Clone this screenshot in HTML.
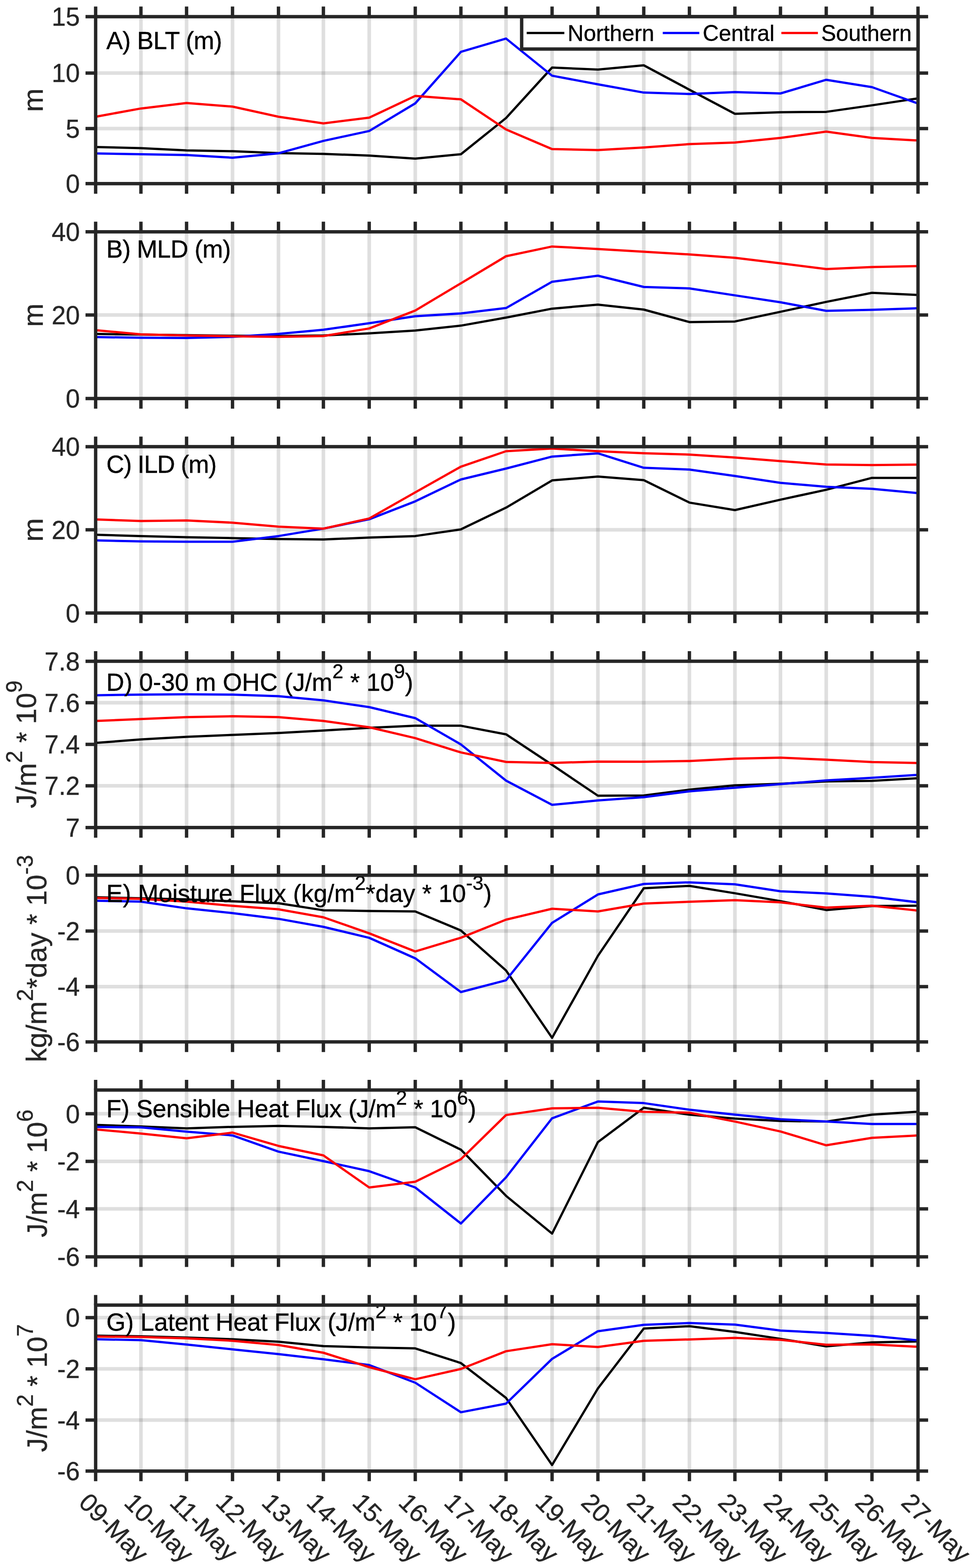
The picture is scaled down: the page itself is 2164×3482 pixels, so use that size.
<!DOCTYPE html>
<html><head><meta charset="utf-8"><title>Figure</title>
<style>html,body{margin:0;padding:0;background:#fff;}svg{display:block;}text{font-family:"Liberation Sans", Arial, Helvetica, sans-serif;stroke-width:0.45px;}</style></head><body>
<svg width="2164" height="3482" viewBox="0 0 2164 3482">
<rect x="0" y="0" width="2164" height="3482" fill="#ffffff"/>
<clipPath id="c0"><rect x="212.5" y="37" width="1827.1" height="370.8"/></clipPath>
<path d="M313.1 37V407.8M414.5 37V407.8M516.6 37V407.8M618.7 37V407.8M718.5 37V407.8M820.3 37V407.8M922.6 37V407.8M1024 37V407.8M1124.3 37V407.8M1226.6 37V407.8M1328.4 37V407.8M1430.3 37V407.8M1531.7 37V407.8M1632.8 37V407.8M1734 37V407.8M1835.7 37V407.8M1937.3 37V407.8" stroke="#262626" stroke-opacity="0.15" stroke-width="8" fill="none"/>
<path d="M212.5 285.4H2039.6M212.5 162.2H2039.6" stroke="#262626" stroke-opacity="0.15" stroke-width="8" fill="none"/>
<g clip-path="url(#c0)" fill="none" stroke-width="5" stroke-linejoin="round" stroke-linecap="butt">
<polyline points="212.5,326.5 313.1,329 414.5,334 516.6,335.8 618.7,340 718.5,341.7 820.3,345.5 922.6,352.3 1024,342.5 1124.3,262.1 1226.6,150 1328.4,154.6 1430.3,145 1531.7,199.2 1632.8,252.8 1734,249.2 1835.7,248.4 1937.3,233.9 2039.6,218.5" stroke="#000000"/>
<polyline points="212.5,340.8 313.1,342.5 414.5,344.2 516.6,350.2 618.7,340.4 718.5,312.9 820.3,290.9 922.6,229.5 1024,115.2 1124.3,85.6 1226.6,168.1 1328.4,187.2 1430.3,205.6 1531.7,208.8 1632.8,204.5 1734,207.5 1835.7,177.2 1937.3,193.5 2039.6,229.9" stroke="#0000ff"/>
<polyline points="212.5,259.2 313.1,240.9 414.5,228.7 516.6,236.7 618.7,259.2 718.5,274 820.3,261.3 922.6,213 1024,220.6 1124.3,287.5 1226.6,331.1 1328.4,333.2 1430.3,327.5 1531.7,320 1632.8,316.4 1734,306.3 1835.7,292.3 1937.3,306.3 2039.6,312" stroke="#ff0000"/>
</g>
<text x="236.3" y="108.6" font-size="55" fill="#000" stroke="#000" textLength="257.4" lengthAdjust="spacing">A) BLT (m)</text>
<path d="M212.5 37V14.5M212.5 407.8V430.3M313.1 37V14.5M313.1 407.8V430.3M414.5 37V14.5M414.5 407.8V430.3M516.6 37V14.5M516.6 407.8V430.3M618.7 37V14.5M618.7 407.8V430.3M718.5 37V14.5M718.5 407.8V430.3M820.3 37V14.5M820.3 407.8V430.3M922.6 37V14.5M922.6 407.8V430.3M1024 37V14.5M1024 407.8V430.3M1124.3 37V14.5M1124.3 407.8V430.3M1226.6 37V14.5M1226.6 407.8V430.3M1328.4 37V14.5M1328.4 407.8V430.3M1430.3 37V14.5M1430.3 407.8V430.3M1531.7 37V14.5M1531.7 407.8V430.3M1632.8 37V14.5M1632.8 407.8V430.3M1734 37V14.5M1734 407.8V430.3M1835.7 37V14.5M1835.7 407.8V430.3M1937.3 37V14.5M1937.3 407.8V430.3M2039.6 37V14.5M2039.6 407.8V430.3M212.5 407.8H190M2039.6 407.8H2062.1M212.5 285.4H190M2039.6 285.4H2062.1M212.5 162.2H190M2039.6 162.2H2062.1M212.5 37H190M2039.6 37H2062.1" stroke="#262626" stroke-width="7.5" fill="none"/>
<rect x="212.5" y="37" width="1827.1" height="370.8" fill="none" stroke="#262626" stroke-width="7.5"/>
<text x="177.5" y="428" font-size="56.5" fill="#262626" stroke="#262626" text-anchor="end">0</text>
<text x="177.5" y="305.6" font-size="56.5" fill="#262626" stroke="#262626" text-anchor="end">5</text>
<text x="177.5" y="182.4" font-size="56.5" fill="#262626" stroke="#262626" text-anchor="end">10</text>
<text x="177.5" y="57.2" font-size="56.5" fill="#262626" stroke="#262626" text-anchor="end">15</text>
<text transform="translate(94.9 222.4) rotate(-90)" font-size="62.5" fill="#262626" stroke="#262626" text-anchor="middle">m</text>
<clipPath id="c1"><rect x="212.5" y="514.8" width="1827.1" height="370.2"/></clipPath>
<path d="M313.1 514.8V885M414.5 514.8V885M516.6 514.8V885M618.7 514.8V885M718.5 514.8V885M820.3 514.8V885M922.6 514.8V885M1024 514.8V885M1124.3 514.8V885M1226.6 514.8V885M1328.4 514.8V885M1430.3 514.8V885M1531.7 514.8V885M1632.8 514.8V885M1734 514.8V885M1835.7 514.8V885M1937.3 514.8V885" stroke="#262626" stroke-opacity="0.15" stroke-width="8" fill="none"/>
<path d="M212.5 699.6H2039.6" stroke="#262626" stroke-opacity="0.15" stroke-width="8" fill="none"/>
<g clip-path="url(#c1)" fill="none" stroke-width="5" stroke-linejoin="round" stroke-linecap="butt">
<polyline points="212.5,741.6 313.1,742.9 414.5,744.2 516.6,745.5 618.7,746.3 718.5,745 820.3,740.2 922.6,734.1 1024,723.1 1124.3,705.3 1226.6,685.4 1328.4,676.5 1430.3,687.5 1531.7,715.2 1632.8,713.9 1734,692.4 1835.7,670.4 1937.3,650.2 2039.6,655" stroke="#000000"/>
<polyline points="212.5,748.4 313.1,750.1 414.5,750.5 516.6,748 618.7,741.6 718.5,732.3 820.3,717.8 922.6,702.3 1024,696 1124.3,684.1 1226.6,625.7 1328.4,612.2 1430.3,637.3 1531.7,640.5 1632.8,655.9 1734,671.3 1835.7,690.2 1937.3,688 2039.6,684.5" stroke="#0000ff"/>
<polyline points="212.5,733.2 313.1,742.5 414.5,745 516.6,746.7 618.7,748 718.5,746.3 820.3,729.4 922.6,689.6 1024,629.1 1124.3,569 1226.6,547.4 1328.4,552.9 1430.3,559 1531.7,565 1632.8,572.5 1734,584.8 1835.7,597.5 1937.3,593.1 2039.6,590.9" stroke="#ff0000"/>
</g>
<text x="236.3" y="571.7" font-size="55" fill="#000" stroke="#000" textLength="276.7" lengthAdjust="spacing">B) MLD (m)</text>
<path d="M212.5 514.8V492.3M212.5 885V907.5M313.1 514.8V492.3M313.1 885V907.5M414.5 514.8V492.3M414.5 885V907.5M516.6 514.8V492.3M516.6 885V907.5M618.7 514.8V492.3M618.7 885V907.5M718.5 514.8V492.3M718.5 885V907.5M820.3 514.8V492.3M820.3 885V907.5M922.6 514.8V492.3M922.6 885V907.5M1024 514.8V492.3M1024 885V907.5M1124.3 514.8V492.3M1124.3 885V907.5M1226.6 514.8V492.3M1226.6 885V907.5M1328.4 514.8V492.3M1328.4 885V907.5M1430.3 514.8V492.3M1430.3 885V907.5M1531.7 514.8V492.3M1531.7 885V907.5M1632.8 514.8V492.3M1632.8 885V907.5M1734 514.8V492.3M1734 885V907.5M1835.7 514.8V492.3M1835.7 885V907.5M1937.3 514.8V492.3M1937.3 885V907.5M2039.6 514.8V492.3M2039.6 885V907.5M212.5 885H190M2039.6 885H2062.1M212.5 699.6H190M2039.6 699.6H2062.1M212.5 514.8H190M2039.6 514.8H2062.1" stroke="#262626" stroke-width="7.5" fill="none"/>
<rect x="212.5" y="514.8" width="1827.1" height="370.2" fill="none" stroke="#262626" stroke-width="7.5"/>
<text x="177.5" y="905.2" font-size="56.5" fill="#262626" stroke="#262626" text-anchor="end">0</text>
<text x="177.5" y="719.8" font-size="56.5" fill="#262626" stroke="#262626" text-anchor="end">20</text>
<text x="177.5" y="535" font-size="56.5" fill="#262626" stroke="#262626" text-anchor="end">40</text>
<text transform="translate(94.9 699.9) rotate(-90)" font-size="62.5" fill="#262626" stroke="#262626" text-anchor="middle">m</text>
<clipPath id="c2"><rect x="212.5" y="991.9" width="1827.1" height="369.4"/></clipPath>
<path d="M313.1 991.9V1361.3M414.5 991.9V1361.3M516.6 991.9V1361.3M618.7 991.9V1361.3M718.5 991.9V1361.3M820.3 991.9V1361.3M922.6 991.9V1361.3M1024 991.9V1361.3M1124.3 991.9V1361.3M1226.6 991.9V1361.3M1328.4 991.9V1361.3M1430.3 991.9V1361.3M1531.7 991.9V1361.3M1632.8 991.9V1361.3M1734 991.9V1361.3M1835.7 991.9V1361.3M1937.3 991.9V1361.3" stroke="#262626" stroke-opacity="0.15" stroke-width="8" fill="none"/>
<path d="M212.5 1176.6H2039.6" stroke="#262626" stroke-opacity="0.15" stroke-width="8" fill="none"/>
<g clip-path="url(#c2)" fill="none" stroke-width="5" stroke-linejoin="round" stroke-linecap="butt">
<polyline points="212.5,1187.4 313.1,1190.4 414.5,1192.9 516.6,1195 618.7,1197.1 718.5,1198 820.3,1193.8 922.6,1190.4 1024,1175.6 1124.3,1127.3 1226.6,1066.8 1328.4,1058.3 1430.3,1066.2 1531.7,1116.1 1632.8,1132.8 1734,1109.6 1835.7,1087.6 1937.3,1061.2 2039.6,1061.2" stroke="#000000"/>
<polyline points="212.5,1200.1 313.1,1202.2 414.5,1203.1 516.6,1203.1 618.7,1190.4 718.5,1173.9 820.3,1153.1 922.6,1113.3 1024,1064.7 1124.3,1040.5 1226.6,1013.9 1328.4,1006.7 1430.3,1038.8 1531.7,1042.8 1632.8,1056.9 1734,1072.2 1835.7,1081 1937.3,1085.4 2039.6,1095.1" stroke="#0000ff"/>
<polyline points="212.5,1153.5 313.1,1156.9 414.5,1155.7 516.6,1160.7 618.7,1169.6 718.5,1173.9 820.3,1151.4 922.6,1093.4 1024,1036.3 1124.3,1002 1226.6,996.1 1328.4,1002 1430.3,1006.5 1531.7,1009.4 1632.8,1016 1734,1023.9 1835.7,1031.4 1937.3,1032.7 2039.6,1031.8" stroke="#ff0000"/>
</g>
<text x="236.3" y="1049.6" font-size="55" fill="#000" stroke="#000" textLength="245.4" lengthAdjust="spacing">C) ILD (m)</text>
<path d="M212.5 991.9V969.4M212.5 1361.3V1383.8M313.1 991.9V969.4M313.1 1361.3V1383.8M414.5 991.9V969.4M414.5 1361.3V1383.8M516.6 991.9V969.4M516.6 1361.3V1383.8M618.7 991.9V969.4M618.7 1361.3V1383.8M718.5 991.9V969.4M718.5 1361.3V1383.8M820.3 991.9V969.4M820.3 1361.3V1383.8M922.6 991.9V969.4M922.6 1361.3V1383.8M1024 991.9V969.4M1024 1361.3V1383.8M1124.3 991.9V969.4M1124.3 1361.3V1383.8M1226.6 991.9V969.4M1226.6 1361.3V1383.8M1328.4 991.9V969.4M1328.4 1361.3V1383.8M1430.3 991.9V969.4M1430.3 1361.3V1383.8M1531.7 991.9V969.4M1531.7 1361.3V1383.8M1632.8 991.9V969.4M1632.8 1361.3V1383.8M1734 991.9V969.4M1734 1361.3V1383.8M1835.7 991.9V969.4M1835.7 1361.3V1383.8M1937.3 991.9V969.4M1937.3 1361.3V1383.8M2039.6 991.9V969.4M2039.6 1361.3V1383.8M212.5 1361.3H190M2039.6 1361.3H2062.1M212.5 1176.6H190M2039.6 1176.6H2062.1M212.5 991.9H190M2039.6 991.9H2062.1" stroke="#262626" stroke-width="7.5" fill="none"/>
<rect x="212.5" y="991.9" width="1827.1" height="369.4" fill="none" stroke="#262626" stroke-width="7.5"/>
<text x="177.5" y="1381.5" font-size="56.5" fill="#262626" stroke="#262626" text-anchor="end">0</text>
<text x="177.5" y="1196.8" font-size="56.5" fill="#262626" stroke="#262626" text-anchor="end">20</text>
<text x="177.5" y="1012.1" font-size="56.5" fill="#262626" stroke="#262626" text-anchor="end">40</text>
<text transform="translate(94.9 1176.6) rotate(-90)" font-size="62.5" fill="#262626" stroke="#262626" text-anchor="middle">m</text>
<clipPath id="c3"><rect x="212.5" y="1468.4" width="1827.1" height="369.3"/></clipPath>
<path d="M313.1 1468.4V1837.7M414.5 1468.4V1837.7M516.6 1468.4V1837.7M618.7 1468.4V1837.7M718.5 1468.4V1837.7M820.3 1468.4V1837.7M922.6 1468.4V1837.7M1024 1468.4V1837.7M1124.3 1468.4V1837.7M1226.6 1468.4V1837.7M1328.4 1468.4V1837.7M1430.3 1468.4V1837.7M1531.7 1468.4V1837.7M1632.8 1468.4V1837.7M1734 1468.4V1837.7M1835.7 1468.4V1837.7M1937.3 1468.4V1837.7" stroke="#262626" stroke-opacity="0.15" stroke-width="8" fill="none"/>
<path d="M212.5 1745H2039.6M212.5 1652.9H2039.6M212.5 1560.5H2039.6" stroke="#262626" stroke-opacity="0.15" stroke-width="8" fill="none"/>
<g clip-path="url(#c3)" fill="none" stroke-width="5" stroke-linejoin="round" stroke-linecap="butt">
<polyline points="212.5,1649.7 313.1,1642.1 414.5,1636.2 516.6,1631.9 618.7,1627.7 718.5,1622.2 820.3,1616.2 922.6,1611.6 1024,1611.6 1124.3,1630.7 1226.6,1698.4 1328.4,1767 1430.3,1766.5 1531.7,1753.6 1632.8,1744 1734,1740.5 1835.7,1735.2 1937.3,1733.9 2039.6,1728.2" stroke="#000000"/>
<polyline points="212.5,1543.9 313.1,1542.6 414.5,1541.8 516.6,1542.6 618.7,1546 718.5,1555.3 820.3,1570.3 922.6,1594.7 1024,1653.1 1124.3,1733.5 1226.6,1787.3 1328.4,1777.5 1430.3,1770.2 1531.7,1757.2 1632.8,1749.2 1734,1741.3 1835.7,1733 1937.3,1727.3 2039.6,1720.7" stroke="#0000ff"/>
<polyline points="212.5,1601 313.1,1596.8 414.5,1592.6 516.6,1590.5 618.7,1592.6 718.5,1601 820.3,1615 922.6,1639.1 1024,1670.9 1124.3,1692 1226.6,1694.2 1328.4,1691.2 1430.3,1691.5 1531.7,1690 1632.8,1684.7 1734,1682.5 1835.7,1686.9 1937.3,1692.2 2039.6,1694.4" stroke="#ff0000"/>
</g>
<text x="236.3" y="1533.7" font-size="55" fill="#000" stroke="#000" textLength="681.7" lengthAdjust="spacing">D) 0-30 m OHC (J/m<tspan dy="-27.4" font-size="44">2</tspan><tspan dy="27.4"> * 10</tspan><tspan dy="-27.4" font-size="44">9</tspan><tspan dy="27.4">)</tspan></text>
<path d="M212.5 1468.4V1445.9M212.5 1837.7V1860.2M313.1 1468.4V1445.9M313.1 1837.7V1860.2M414.5 1468.4V1445.9M414.5 1837.7V1860.2M516.6 1468.4V1445.9M516.6 1837.7V1860.2M618.7 1468.4V1445.9M618.7 1837.7V1860.2M718.5 1468.4V1445.9M718.5 1837.7V1860.2M820.3 1468.4V1445.9M820.3 1837.7V1860.2M922.6 1468.4V1445.9M922.6 1837.7V1860.2M1024 1468.4V1445.9M1024 1837.7V1860.2M1124.3 1468.4V1445.9M1124.3 1837.7V1860.2M1226.6 1468.4V1445.9M1226.6 1837.7V1860.2M1328.4 1468.4V1445.9M1328.4 1837.7V1860.2M1430.3 1468.4V1445.9M1430.3 1837.7V1860.2M1531.7 1468.4V1445.9M1531.7 1837.7V1860.2M1632.8 1468.4V1445.9M1632.8 1837.7V1860.2M1734 1468.4V1445.9M1734 1837.7V1860.2M1835.7 1468.4V1445.9M1835.7 1837.7V1860.2M1937.3 1468.4V1445.9M1937.3 1837.7V1860.2M2039.6 1468.4V1445.9M2039.6 1837.7V1860.2M212.5 1837.7H190M2039.6 1837.7H2062.1M212.5 1745H190M2039.6 1745H2062.1M212.5 1652.9H190M2039.6 1652.9H2062.1M212.5 1560.5H190M2039.6 1560.5H2062.1M212.5 1468.4H190M2039.6 1468.4H2062.1" stroke="#262626" stroke-width="7.5" fill="none"/>
<rect x="212.5" y="1468.4" width="1827.1" height="369.3" fill="none" stroke="#262626" stroke-width="7.5"/>
<text x="177.5" y="1857.9" font-size="56.5" fill="#262626" stroke="#262626" text-anchor="end">7</text>
<text x="177.5" y="1765.2" font-size="56.5" fill="#262626" stroke="#262626" text-anchor="end">7.2</text>
<text x="177.5" y="1673.1" font-size="56.5" fill="#262626" stroke="#262626" text-anchor="end">7.4</text>
<text x="177.5" y="1580.7" font-size="56.5" fill="#262626" stroke="#262626" text-anchor="end">7.6</text>
<text x="177.5" y="1488.6" font-size="56.5" fill="#262626" stroke="#262626" text-anchor="end">7.8</text>
<text transform="translate(79.6 1653.05) rotate(-90)" font-size="62.5" fill="#262626" stroke="#262626" text-anchor="middle">J/m<tspan dy="-30.5" font-size="49.3">2</tspan><tspan dy="30.5"> * 10</tspan><tspan dy="-30.5" font-size="49.3">9</tspan></text>
<clipPath id="c4"><rect x="212.5" y="1943.6" width="1827.1" height="370.1"/></clipPath>
<path d="M313.1 1943.6V2313.7M414.5 1943.6V2313.7M516.6 1943.6V2313.7M618.7 1943.6V2313.7M718.5 1943.6V2313.7M820.3 1943.6V2313.7M922.6 1943.6V2313.7M1024 1943.6V2313.7M1124.3 1943.6V2313.7M1226.6 1943.6V2313.7M1328.4 1943.6V2313.7M1430.3 1943.6V2313.7M1531.7 1943.6V2313.7M1632.8 1943.6V2313.7M1734 1943.6V2313.7M1835.7 1943.6V2313.7M1937.3 1943.6V2313.7" stroke="#262626" stroke-opacity="0.15" stroke-width="8" fill="none"/>
<path d="M212.5 2190.9H2039.6M212.5 2067.4H2039.6" stroke="#262626" stroke-opacity="0.15" stroke-width="8" fill="none"/>
<g clip-path="url(#c4)" fill="none" stroke-width="5" stroke-linejoin="round" stroke-linecap="butt">
<polyline points="212.5,1992.6 313.1,1994.7 414.5,1997.2 516.6,2001.5 618.7,2005.7 718.5,2021.4 820.3,2022.9 922.6,2024 1024,2066.3 1124.3,2155.2 1226.6,2304.6 1328.4,2122.6 1430.3,1972.5 1531.7,1967.3 1632.8,1983.6 1734,2001.1 1835.7,2020.9 1937.3,2012.1 2039.6,2011.2" stroke="#000000"/>
<polyline points="212.5,2000.2 313.1,2002.3 414.5,2017.1 516.6,2027.7 618.7,2040.4 718.5,2058.2 820.3,2082.6 922.6,2128.1 1024,2203 1124.3,2176.8 1226.6,2049.4 1328.4,1986.3 1430.3,1963 1531.7,1959.4 1632.8,1963.8 1734,1979.2 1835.7,1984 1937.3,1991.5 2039.6,2003.8" stroke="#0000ff"/>
<polyline points="212.5,1993.9 313.1,1996 414.5,2002.3 516.6,2011.6 618.7,2019.3 718.5,2037 820.3,2072.6 922.6,2112.9 1024,2082.4 1124.3,2042.2 1226.6,2018 1328.4,2024 1430.3,2006.5 1531.7,2002.5 1632.8,1999 1734,2003.8 1835.7,2015.6 1937.3,2011.2 2039.6,2022.2" stroke="#ff0000"/>
</g>
<text x="236.3" y="2002.9" font-size="55" fill="#000" stroke="#000" textLength="856.3" lengthAdjust="spacing">E) Moisture Flux (kg/m<tspan dy="-27.4" font-size="44">2</tspan><tspan dy="27.4">*day * 10</tspan><tspan dy="-27.4" font-size="44">-3</tspan><tspan dy="27.4">)</tspan></text>
<path d="M212.5 1943.6V1921.1M212.5 2313.7V2336.2M313.1 1943.6V1921.1M313.1 2313.7V2336.2M414.5 1943.6V1921.1M414.5 2313.7V2336.2M516.6 1943.6V1921.1M516.6 2313.7V2336.2M618.7 1943.6V1921.1M618.7 2313.7V2336.2M718.5 1943.6V1921.1M718.5 2313.7V2336.2M820.3 1943.6V1921.1M820.3 2313.7V2336.2M922.6 1943.6V1921.1M922.6 2313.7V2336.2M1024 1943.6V1921.1M1024 2313.7V2336.2M1124.3 1943.6V1921.1M1124.3 2313.7V2336.2M1226.6 1943.6V1921.1M1226.6 2313.7V2336.2M1328.4 1943.6V1921.1M1328.4 2313.7V2336.2M1430.3 1943.6V1921.1M1430.3 2313.7V2336.2M1531.7 1943.6V1921.1M1531.7 2313.7V2336.2M1632.8 1943.6V1921.1M1632.8 2313.7V2336.2M1734 1943.6V1921.1M1734 2313.7V2336.2M1835.7 1943.6V1921.1M1835.7 2313.7V2336.2M1937.3 1943.6V1921.1M1937.3 2313.7V2336.2M2039.6 1943.6V1921.1M2039.6 2313.7V2336.2M212.5 2313.7H190M2039.6 2313.7H2062.1M212.5 2190.9H190M2039.6 2190.9H2062.1M212.5 2067.4H190M2039.6 2067.4H2062.1M212.5 1943.6H190M2039.6 1943.6H2062.1" stroke="#262626" stroke-width="7.5" fill="none"/>
<rect x="212.5" y="1943.6" width="1827.1" height="370.1" fill="none" stroke="#262626" stroke-width="7.5"/>
<text x="177.5" y="2333.9" font-size="56.5" fill="#262626" stroke="#262626" text-anchor="end">-6</text>
<text x="177.5" y="2211.1" font-size="56.5" fill="#262626" stroke="#262626" text-anchor="end">-4</text>
<text x="177.5" y="2087.6" font-size="56.5" fill="#262626" stroke="#262626" text-anchor="end">-2</text>
<text x="177.5" y="1963.8" font-size="56.5" fill="#262626" stroke="#262626" text-anchor="end">0</text>
<text transform="translate(103.4 2128.65) rotate(-90)" font-size="62.5" fill="#262626" stroke="#262626" text-anchor="middle">kg/m<tspan dy="-30.5" font-size="49.3">2</tspan><tspan dy="30.5">*day * 10</tspan><tspan dy="-30.5" font-size="49.3">-3</tspan></text>
<clipPath id="c5"><rect x="212.5" y="2420.6" width="1827.1" height="370.4"/></clipPath>
<path d="M313.1 2420.6V2791M414.5 2420.6V2791M516.6 2420.6V2791M618.7 2420.6V2791M718.5 2420.6V2791M820.3 2420.6V2791M922.6 2420.6V2791M1024 2420.6V2791M1124.3 2420.6V2791M1226.6 2420.6V2791M1328.4 2420.6V2791M1430.3 2420.6V2791M1531.7 2420.6V2791M1632.8 2420.6V2791M1734 2420.6V2791M1835.7 2420.6V2791M1937.3 2420.6V2791" stroke="#262626" stroke-opacity="0.15" stroke-width="8" fill="none"/>
<path d="M212.5 2684.6H2039.6M212.5 2579.1H2039.6M212.5 2473.3H2039.6" stroke="#262626" stroke-opacity="0.15" stroke-width="8" fill="none"/>
<g clip-path="url(#c5)" fill="none" stroke-width="5" stroke-linejoin="round" stroke-linecap="butt">
<polyline points="212.5,2498.1 313.1,2501.5 414.5,2505.7 516.6,2502.4 618.7,2500.2 718.5,2502.4 820.3,2505.7 922.6,2503.2 1024,2553.1 1124.3,2655.6 1226.6,2739.4 1328.4,2536.2 1430.3,2460 1531.7,2475.3 1632.8,2484 1734,2489.3 1835.7,2490.6 1937.3,2475.3 2039.6,2468.7" stroke="#000000"/>
<polyline points="212.5,2502.4 313.1,2503.6 414.5,2512.9 516.6,2521.4 618.7,2557.4 718.5,2578.5 820.3,2600.8 922.6,2637 1024,2717 1124.3,2614.5 1226.6,2483.3 1328.4,2446.1 1430.3,2449.6 1531.7,2464.3 1632.8,2475.3 1734,2485.4 1835.7,2490.6 1937.3,2495.9 2039.6,2495.9" stroke="#0000ff"/>
<polyline points="212.5,2507.9 313.1,2517.2 414.5,2527.8 516.6,2515.1 618.7,2544.7 718.5,2565.8 820.3,2637 922.6,2624.3 1024,2574.3 1124.3,2476.1 1226.6,2461.3 1328.4,2460 1430.3,2469 1531.7,2470.9 1632.8,2490.6 1734,2512.6 1835.7,2543.3 1937.3,2526.7 2039.6,2521.4" stroke="#ff0000"/>
</g>
<text x="236.3" y="2480.8" font-size="55" fill="#000" stroke="#000" textLength="821.8" lengthAdjust="spacing">F) Sensible Heat Flux (J/m<tspan dy="-27.4" font-size="44">2</tspan><tspan dy="27.4"> * 10</tspan><tspan dy="-27.4" font-size="44">6</tspan><tspan dy="27.4">)</tspan></text>
<path d="M212.5 2420.6V2398.1M212.5 2791V2813.5M313.1 2420.6V2398.1M313.1 2791V2813.5M414.5 2420.6V2398.1M414.5 2791V2813.5M516.6 2420.6V2398.1M516.6 2791V2813.5M618.7 2420.6V2398.1M618.7 2791V2813.5M718.5 2420.6V2398.1M718.5 2791V2813.5M820.3 2420.6V2398.1M820.3 2791V2813.5M922.6 2420.6V2398.1M922.6 2791V2813.5M1024 2420.6V2398.1M1024 2791V2813.5M1124.3 2420.6V2398.1M1124.3 2791V2813.5M1226.6 2420.6V2398.1M1226.6 2791V2813.5M1328.4 2420.6V2398.1M1328.4 2791V2813.5M1430.3 2420.6V2398.1M1430.3 2791V2813.5M1531.7 2420.6V2398.1M1531.7 2791V2813.5M1632.8 2420.6V2398.1M1632.8 2791V2813.5M1734 2420.6V2398.1M1734 2791V2813.5M1835.7 2420.6V2398.1M1835.7 2791V2813.5M1937.3 2420.6V2398.1M1937.3 2791V2813.5M2039.6 2420.6V2398.1M2039.6 2791V2813.5M212.5 2791H190M2039.6 2791H2062.1M212.5 2684.6H190M2039.6 2684.6H2062.1M212.5 2579.1H190M2039.6 2579.1H2062.1M212.5 2473.3H190M2039.6 2473.3H2062.1" stroke="#262626" stroke-width="7.5" fill="none"/>
<rect x="212.5" y="2420.6" width="1827.1" height="370.4" fill="none" stroke="#262626" stroke-width="7.5"/>
<text x="177.5" y="2811.2" font-size="56.5" fill="#262626" stroke="#262626" text-anchor="end">-6</text>
<text x="177.5" y="2704.8" font-size="56.5" fill="#262626" stroke="#262626" text-anchor="end">-4</text>
<text x="177.5" y="2599.3" font-size="56.5" fill="#262626" stroke="#262626" text-anchor="end">-2</text>
<text x="177.5" y="2493.5" font-size="56.5" fill="#262626" stroke="#262626" text-anchor="end">0</text>
<text transform="translate(103.6 2605.8) rotate(-90)" font-size="62.5" fill="#262626" stroke="#262626" text-anchor="middle">J/m<tspan dy="-30.5" font-size="49.3">2</tspan><tspan dy="30.5"> * 10</tspan><tspan dy="-30.5" font-size="49.3">6</tspan></text>
<clipPath id="c6"><rect x="212.5" y="2898.2" width="1827.1" height="368.6"/></clipPath>
<path d="M313.1 2898.2V3266.8M414.5 2898.2V3266.8M516.6 2898.2V3266.8M618.7 2898.2V3266.8M718.5 2898.2V3266.8M820.3 2898.2V3266.8M922.6 2898.2V3266.8M1024 2898.2V3266.8M1124.3 2898.2V3266.8M1226.6 2898.2V3266.8M1328.4 2898.2V3266.8M1430.3 2898.2V3266.8M1531.7 2898.2V3266.8M1632.8 2898.2V3266.8M1734 2898.2V3266.8M1835.7 2898.2V3266.8M1937.3 2898.2V3266.8" stroke="#262626" stroke-opacity="0.15" stroke-width="8" fill="none"/>
<path d="M212.5 3153.4H2039.6M212.5 3039.7H2039.6M212.5 2926.1H2039.6" stroke="#262626" stroke-opacity="0.15" stroke-width="8" fill="none"/>
<g clip-path="url(#c6)" fill="none" stroke-width="5" stroke-linejoin="round" stroke-linecap="butt">
<polyline points="212.5,2965.9 313.1,2967.6 414.5,2970.2 516.6,2974 618.7,2979.5 718.5,2989.2 820.3,2992.2 922.6,2994.3 1024,3026.9 1124.3,3104.3 1226.6,3253.3 1328.4,3083.2 1430.3,2950.2 1531.7,2945 1632.8,2957.7 1734,2973.1 1835.7,2989.8 1937.3,2981 2039.6,2978.8" stroke="#000000"/>
<polyline points="212.5,2974 313.1,2976.1 414.5,2985.8 516.6,2996.4 618.7,3007 718.5,3018.4 820.3,3031.3 922.6,3070.5 1024,3136.1 1124.3,3117 1226.6,3017.6 1328.4,2956.2 1430.3,2942 1531.7,2938 1632.8,2941.5 1734,2954.7 1835.7,2959.9 1937.3,2966.5 2039.6,2976.6" stroke="#0000ff"/>
<polyline points="212.5,2968 313.1,2968.9 414.5,2971.9 516.6,2977.4 618.7,2986.7 718.5,3004 820.3,3036 922.6,3062.9 1024,3040 1124.3,3000.6 1226.6,2985 1328.4,2991.3 1430.3,2977.5 1531.7,2974.4 1632.8,2970.9 1734,2975.3 1835.7,2986.3 1937.3,2985.4 2039.6,2990.7" stroke="#ff0000"/>
</g>
<text x="236.3" y="2954.6" font-size="55" fill="#000" stroke="#000" textLength="776.7" lengthAdjust="spacing">G) Latent Heat Flux (J/m<tspan dy="-27.4" font-size="44">2</tspan><tspan dy="27.4"> * 10</tspan><tspan dy="-27.4" font-size="44">7</tspan><tspan dy="27.4">)</tspan></text>
<path d="M212.5 2898.2V2875.7M212.5 3266.8V3289.3M313.1 2898.2V2875.7M313.1 3266.8V3289.3M414.5 2898.2V2875.7M414.5 3266.8V3289.3M516.6 2898.2V2875.7M516.6 3266.8V3289.3M618.7 2898.2V2875.7M618.7 3266.8V3289.3M718.5 2898.2V2875.7M718.5 3266.8V3289.3M820.3 2898.2V2875.7M820.3 3266.8V3289.3M922.6 2898.2V2875.7M922.6 3266.8V3289.3M1024 2898.2V2875.7M1024 3266.8V3289.3M1124.3 2898.2V2875.7M1124.3 3266.8V3289.3M1226.6 2898.2V2875.7M1226.6 3266.8V3289.3M1328.4 2898.2V2875.7M1328.4 3266.8V3289.3M1430.3 2898.2V2875.7M1430.3 3266.8V3289.3M1531.7 2898.2V2875.7M1531.7 3266.8V3289.3M1632.8 2898.2V2875.7M1632.8 3266.8V3289.3M1734 2898.2V2875.7M1734 3266.8V3289.3M1835.7 2898.2V2875.7M1835.7 3266.8V3289.3M1937.3 2898.2V2875.7M1937.3 3266.8V3289.3M2039.6 2898.2V2875.7M2039.6 3266.8V3289.3M212.5 3266.8H190M2039.6 3266.8H2062.1M212.5 3153.4H190M2039.6 3153.4H2062.1M212.5 3039.7H190M2039.6 3039.7H2062.1M212.5 2926.1H190M2039.6 2926.1H2062.1" stroke="#262626" stroke-width="7.5" fill="none"/>
<rect x="212.5" y="2898.2" width="1827.1" height="368.6" fill="none" stroke="#262626" stroke-width="7.5"/>
<text x="177.5" y="3287" font-size="56.5" fill="#262626" stroke="#262626" text-anchor="end">-6</text>
<text x="177.5" y="3173.6" font-size="56.5" fill="#262626" stroke="#262626" text-anchor="end">-4</text>
<text x="177.5" y="3059.9" font-size="56.5" fill="#262626" stroke="#262626" text-anchor="end">-2</text>
<text x="177.5" y="2946.3" font-size="56.5" fill="#262626" stroke="#262626" text-anchor="end">0</text>
<text transform="translate(103.6 3082.5) rotate(-90)" font-size="62.5" fill="#262626" stroke="#262626" text-anchor="middle">J/m<tspan dy="-30.5" font-size="49.3">2</tspan><tspan dy="30.5"> * 10</tspan><tspan dy="-30.5" font-size="49.3">7</tspan></text>
<rect x="1159" y="37" width="880.6" height="71.9" fill="#fff" stroke="#262626" stroke-width="7.5"/>
<path d="M1170.2 73.2H1253.8" stroke="#000000" stroke-width="5"/>
<text x="1261" y="91.4" font-size="49.5" fill="#000" stroke="#000">Northern</text>
<path d="M1472.5 73.2H1553.7" stroke="#0000ff" stroke-width="5"/>
<text x="1561.2" y="91.4" font-size="49.5" fill="#000" stroke="#000">Central</text>
<path d="M1736 73.2H1817.2" stroke="#ff0000" stroke-width="5"/>
<text x="1824.6" y="91.4" font-size="49.5" fill="#000" stroke="#000">Southern</text>
<text transform="translate(172.3 3339.7) rotate(45)" font-size="56.5" fill="#262626" stroke="#262626">09-May</text>
<text transform="translate(272.9 3339.7) rotate(45)" font-size="56.5" fill="#262626" stroke="#262626">10-May</text>
<text transform="translate(374.3 3339.7) rotate(45)" font-size="56.5" fill="#262626" stroke="#262626">11-May</text>
<text transform="translate(476.4 3339.7) rotate(45)" font-size="56.5" fill="#262626" stroke="#262626">12-May</text>
<text transform="translate(578.5 3339.7) rotate(45)" font-size="56.5" fill="#262626" stroke="#262626">13-May</text>
<text transform="translate(678.3 3339.7) rotate(45)" font-size="56.5" fill="#262626" stroke="#262626">14-May</text>
<text transform="translate(780.1 3339.7) rotate(45)" font-size="56.5" fill="#262626" stroke="#262626">15-May</text>
<text transform="translate(882.4 3339.7) rotate(45)" font-size="56.5" fill="#262626" stroke="#262626">16-May</text>
<text transform="translate(983.8 3339.7) rotate(45)" font-size="56.5" fill="#262626" stroke="#262626">17-May</text>
<text transform="translate(1084.1 3339.7) rotate(45)" font-size="56.5" fill="#262626" stroke="#262626">18-May</text>
<text transform="translate(1186.4 3339.7) rotate(45)" font-size="56.5" fill="#262626" stroke="#262626">19-May</text>
<text transform="translate(1288.2 3339.7) rotate(45)" font-size="56.5" fill="#262626" stroke="#262626">20-May</text>
<text transform="translate(1390.1 3339.7) rotate(45)" font-size="56.5" fill="#262626" stroke="#262626">21-May</text>
<text transform="translate(1491.5 3339.7) rotate(45)" font-size="56.5" fill="#262626" stroke="#262626">22-May</text>
<text transform="translate(1592.6 3339.7) rotate(45)" font-size="56.5" fill="#262626" stroke="#262626">23-May</text>
<text transform="translate(1693.8 3339.7) rotate(45)" font-size="56.5" fill="#262626" stroke="#262626">24-May</text>
<text transform="translate(1795.5 3339.7) rotate(45)" font-size="56.5" fill="#262626" stroke="#262626">25-May</text>
<text transform="translate(1897.1 3339.7) rotate(45)" font-size="56.5" fill="#262626" stroke="#262626">26-May</text>
<text transform="translate(1999.4 3339.7) rotate(45)" font-size="56.5" fill="#262626" stroke="#262626">27-May</text>
</svg></body></html>
